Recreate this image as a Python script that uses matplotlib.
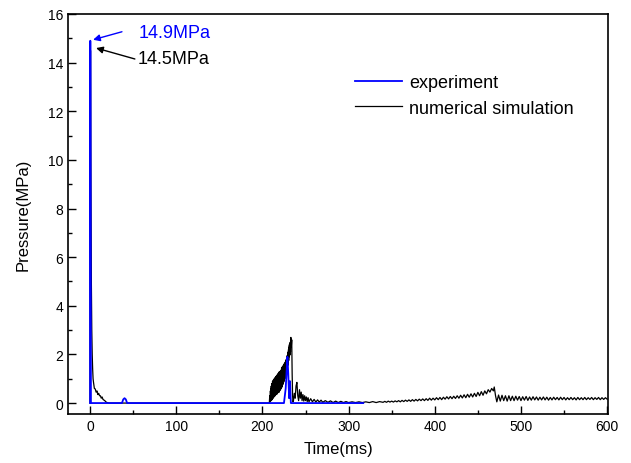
import numpy as np
import matplotlib
matplotlib.use('Agg')
from matplotlib import pyplot as plt
from matplotlib.ticker import MultipleLocator
plt.rcParams['font.family'] = ['Liberation Sans', 'DejaVu Sans']

# experiment (ms, MPa)
exp_t = [0, 0.3, 1.0, 37, 38.5, 40, 41.5, 43, 225, 227, 229, 230, 231, 232, 233, 317]
exp_p = [0, 14.9, 0, 0, 0.15, 0.2, 0.15, 0, 0, 0.6, 1.9, 1.2, 0.2, 0.9, 0, 0]

# numerical simulation, (ms, MPa) pairs by segment
sim_start = [(0, 0), (0.5, 14.5), (1.0, 9.0), (1.5, 5.0), (2.0, 3.0), (2.5, 2.0), (3.0, 1.4), (3.5, 1.0),
             (4.0, 0.85), (5, 0.6), (6, 0.58), (7, 0.45), (8, 0.5), (9, 0.35), (10, 0.4), (11, 0.3),
             (12, 0.3), (13, 0.2), (14, 0.25), (15, 0.15), (17, 0.1), (19, 0.03), (22, 0.0), (208, 0.0)]
sim_burst = [(208.5, 0.3), (209, 0.05), (209.25, 0.5), (209.5, 0.1), (209.75, 0.6), (210, 0.15),
             (210.25, 0.7), (210.5, 0.1), (210.75, 0.8), (211, 0.2), (211.25, 0.75), (211.5, 0.15),
             (211.75, 0.9), (212, 0.25), (212.25, 0.8), (212.5, 0.2), (212.75, 0.95), (213, 0.3),
             (213.25, 0.85), (213.5, 0.25), (213.75, 1.0), (214, 0.3), (214.25, 0.9), (214.5, 0.35),
             (214.75, 1.05), (215, 0.3), (215.25, 0.95), (215.5, 0.35), (215.75, 1.1), (216, 0.4),
             (216.25, 1.0), (216.5, 0.35), (216.75, 1.15), (217, 0.4), (217.25, 1.05), (217.5, 0.4),
             (217.75, 1.2), (218, 0.45), (218.25, 1.1), (218.5, 0.45), (218.75, 1.25), (219, 0.5),
             (219.25, 1.15), (219.5, 0.45), (219.75, 1.3), (220, 0.5), (220.25, 1.2), (220.5, 0.55),
             (220.75, 1.3), (221, 0.55), (221.25, 1.35), (221.5, 0.6), (221.75, 1.3), (222, 0.6),
             (222.25, 1.45), (222.5, 0.65), (222.75, 1.4), (223, 0.7), (223.25, 1.5), (223.5, 0.75),
             (223.75, 1.45), (224, 0.8), (224.25, 1.55), (224.5, 0.85), (224.75, 1.6), (225, 0.9),
             (225.25, 1.55), (225.5, 0.95), (225.75, 1.65), (226, 1.0), (226.25, 1.6), (226.5, 1.05),
             (226.75, 1.7), (227, 1.15), (227.25, 1.75), (227.5, 1.2), (227.75, 1.8), (228, 1.3),
             (228.25, 1.85), (228.5, 1.35), (228.75, 1.95), (229, 1.45), (229.25, 2.0), (229.5, 1.55),
             (229.75, 2.1), (230, 1.6), (230.25, 2.2), (230.5, 1.75), (230.75, 2.3), (231, 1.9),
             (231.25, 2.4), (231.5, 1.95), (231.75, 2.45), (232, 2.0), (232.25, 2.5), (232.5, 2.1),
             (232.75, 2.55), (233, 2.7), (233.5, 2.3), (234, 2.6), (234.5, 1.2), (235, 0.3),
             (235.5, 0.05), (236, 0.1)]
sim_decay = [(237, 0.4), (238, 0.2), (239, 0.7), (240, 0.85), (241, 0.3), (242, 0.1), (243, 0.55),
             (244, 0.2), (245, 0.45), (246, 0.1), (247, 0.35), (248, 0.08), (249, 0.3), (250, 0.1),
             (251, 0.25), (252, 0.06), (253, 0.22), (254, 0.05), (256, 0.18), (258, 0.05), (260, 0.15),
             (262, 0.04), (264, 0.13), (266, 0.04), (268, 0.12), (270, 0.03), (273, 0.1), (276, 0.03),
             (279, 0.09), (282, 0.02), (285, 0.08), (288, 0.02), (291, 0.07), (294, 0.02), (297, 0.06),
             (300, 0.02), (304, 0.05), (308, 0.02), (312, 0.05), (316, 0.02), (320, 0.05), (324, 0.02),
             (328, 0.06), (332, 0.02), (336, 0.06)]
sim_rise = [(340, 0.03), (342, 0.07), (344, 0.03), (346, 0.08), (348, 0.04), (350, 0.08), (352, 0.04),
            (354, 0.09), (356, 0.05), (358, 0.1), (360, 0.05), (362, 0.11), (364, 0.06), (366, 0.12),
            (368, 0.07), (370, 0.13), (372, 0.07), (374, 0.14), (376, 0.08), (378, 0.15), (380, 0.09),
            (382, 0.16), (384, 0.1), (386, 0.17), (388, 0.1), (390, 0.18), (392, 0.11), (394, 0.2),
            (396, 0.12), (398, 0.2), (400, 0.13), (402, 0.22), (404, 0.14), (406, 0.23), (408, 0.14),
            (410, 0.24), (412, 0.16), (414, 0.26), (416, 0.17), (418, 0.27), (420, 0.18), (422, 0.28),
            (424, 0.19), (426, 0.3), (428, 0.2), (430, 0.32), (432, 0.21), (434, 0.34), (436, 0.22),
            (438, 0.36), (440, 0.24), (442, 0.38), (444, 0.25), (446, 0.4), (448, 0.27), (450, 0.44),
            (452, 0.3), (454, 0.47), (456, 0.32), (458, 0.5), (460, 0.38), (462, 0.55), (464, 0.45),
            (466, 0.6), (468, 0.5), (469, 0.66), (470.5, 0.3), (472, 0.05)]
sim_tail = [(474, 0.33), (476, 0.08), (478, 0.32), (480, 0.1), (482, 0.3), (484, 0.08), (486, 0.3),
            (488, 0.1), (490, 0.28), (492, 0.1), (494, 0.28), (496, 0.12), (498, 0.27), (500, 0.1),
            (502, 0.26), (504, 0.12), (506, 0.27), (508, 0.11), (510, 0.25), (512, 0.12), (514, 0.26),
            (516, 0.13), (518, 0.25), (520, 0.12), (522, 0.24), (524, 0.13), (526, 0.25), (528, 0.13),
            (530, 0.24), (532, 0.12), (534, 0.23), (536, 0.13), (538, 0.24), (540, 0.14), (542, 0.23),
            (544, 0.13), (546, 0.24), (548, 0.14), (550, 0.23), (552, 0.13), (554, 0.22), (556, 0.14),
            (558, 0.23), (560, 0.14), (562, 0.22), (564, 0.13), (566, 0.23), (568, 0.14), (570, 0.22),
            (572, 0.14), (574, 0.23), (576, 0.14), (578, 0.22), (580, 0.15), (582, 0.23), (584, 0.14),
            (586, 0.22), (588, 0.15), (590, 0.23), (592, 0.14), (594, 0.22), (596, 0.15), (598, 0.22),
            (600, 0.16)]

sim = np.array(sim_start + sim_burst + sim_decay + sim_rise + sim_tail)

fig = plt.figure(figsize=(6.31, 4.64), dpi=100)
ax = fig.add_axes([68 / 631, 1 - 415 / 464, 540 / 631, 400 / 464])

ax.plot(sim[:, 0], sim[:, 1], color='black', lw=0.9, label='numerical simulation', zorder=2)
ax.plot(exp_t, exp_p, color='#0000ff', lw=1.3, label='experiment', zorder=3)

ax.set_xlim(-25.6, 601)
ax.set_ylim(-0.45, 16)
ax.xaxis.set_major_locator(MultipleLocator(100))
ax.xaxis.set_minor_locator(MultipleLocator(50))
ax.yaxis.set_major_locator(MultipleLocator(2))
ax.yaxis.set_minor_locator(MultipleLocator(1))
ax.tick_params(which='both', direction='in', top=False, right=False, labelsize=10, width=1.0)
ax.tick_params(which='major', length=6)
ax.tick_params(which='minor', length=3)
for s in ax.spines.values():
    s.set_linewidth(1.2)

ax.set_xlabel('Time(ms)', fontsize=12, labelpad=6)
ax.set_ylabel('Pressure(MPa)', fontsize=12, labelpad=12)

# peak annotations
ax.annotate('', xy=(3.5, 14.94), xytext=(37, 15.27),
            arrowprops=dict(arrowstyle='-|>', color='#0000ff', lw=1.0, mutation_scale=10, shrinkA=0, shrinkB=0))
ax.text(56, 15.25, '14.9MPa', color='#0000ff', fontsize=13, va='center', ha='left')
ax.annotate('', xy=(7, 14.6), xytext=(52, 14.15),
            arrowprops=dict(arrowstyle='-|>', color='black', lw=1.0, mutation_scale=10, shrinkA=0, shrinkB=0))
ax.text(54.7, 14.15, '14.5MPa', color='black', fontsize=13, va='center', ha='left')

h, l = ax.get_legend_handles_labels()
ax.legend(h[::-1], l[::-1], loc='upper left', bbox_to_anchor=(0.531, 0.849), frameon=False,
          fontsize=13, handlelength=2.6, handletextpad=0.4, labelspacing=0.45, borderpad=0, borderaxespad=0)

plt.savefig('out.png', dpi=100)
